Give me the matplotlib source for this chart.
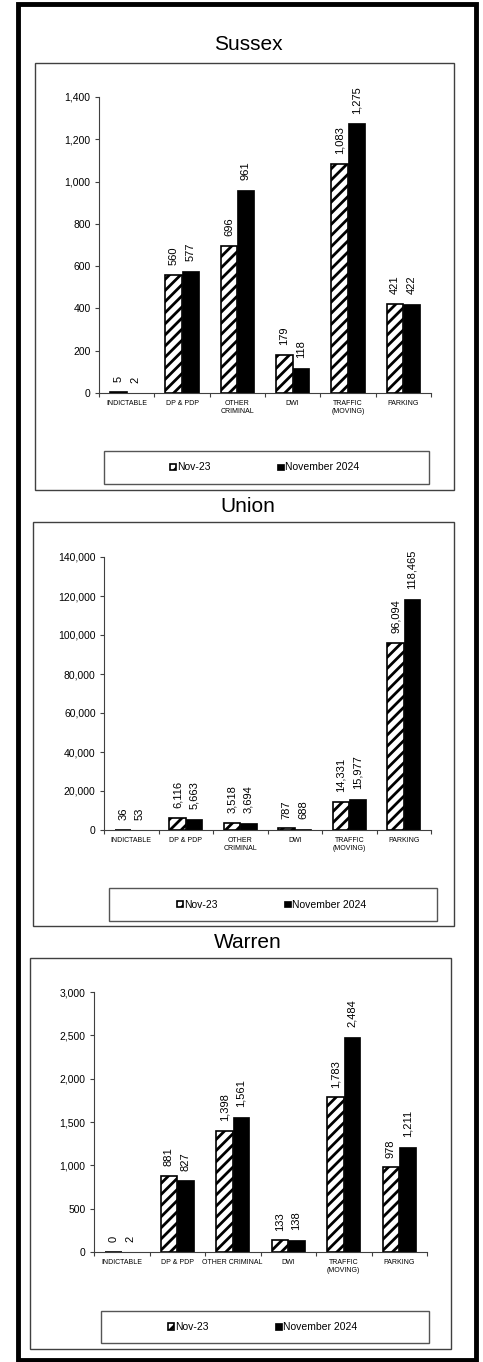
import matplotlib
matplotlib.use("Agg")
import matplotlib.pyplot as plt
from matplotlib.patches import Rectangle
from matplotlib.ticker import FuncFormatter, FixedLocator

plt.rcParams['font.family'] = ['Liberation Sans', 'DejaVu Sans']
plt.rcParams['hatch.linewidth'] = 2.0

# --- data ---
series_names = ['Nov-23', 'November 2024']
categories_two_line = ['INDICTABLE', 'DP & PDP', 'OTHER\nCRIMINAL', 'DWI', 'TRAFFIC\n(MOVING)', 'PARKING']
categories_warren = ['INDICTABLE', 'DP & PDP', 'OTHER CRIMINAL', 'DWI', 'TRAFFIC\n(MOVING)', 'PARKING']

sussex_2023 = [5, 560, 696, 179, 1083, 421]
sussex_2024 = [2, 577, 961, 118, 1275, 422]
union_2023 = [36, 6116, 3518, 787, 14331, 96094]
union_2024 = [53, 5663, 3694, 688, 15977, 118465]
warren_2023 = [0, 881, 1398, 133, 1783, 978]
warren_2024 = [2, 827, 1561, 138, 2484, 1211]

W, H = 483, 1362
fig = plt.figure(figsize=(W / 100, H / 100), dpi=100)


def fx(x):
    return x / W


def fy(y):
    return 1 - y / H


def fig_rect(x0, y0, x1, y1, lw, color):
    fig.patches.append(Rectangle((fx(x0), fy(y1)), fx(x1) - fx(x0), fy(y0) - fy(y1),
                                 transform=fig.transFigure, fill=False,
                                 linewidth=lw, edgecolor=color, zorder=0))


# outer frame
fig_rect(18, 4, 476, 1360, 3.5, 'black')

panels = [
    dict(name='Sussex', a=sussex_2023, b=sussex_2024, cats=categories_two_line, ymax=1400, step=200,
         box=(35, 63, 454, 490), ax=(99, 97, 431, 393), title_y=44.5,
         leg=(104, 451, 429, 484), leg_x=170),
    dict(name='Union', a=union_2023, b=union_2024, cats=categories_two_line, ymax=140000, step=20000,
         box=(33, 522, 454, 926), ax=(104, 557, 431, 830), title_y=507,
         leg=(109, 888, 437, 921), leg_x=177),
    dict(name='Warren', a=warren_2023, b=warren_2024, cats=categories_warren, ymax=3000, step=500,
         box=(30, 958, 451, 1349), ax=(94, 992, 427, 1252), title_y=942,
         leg=(101, 1311, 429, 1343), leg_x=168),
]

for p in panels:
    bx0, by0, bx1, by1 = p['box']
    fig_rect(bx0, by0, bx1, by1, 1.0, '#404040')
    lx0, ly0, lx1, ly1 = p['leg']
    fig_rect(lx0, ly0, lx1, ly1, 1.0, '#555555')
    fig.text(fx(248), fy(p['title_y']), p['name'], fontsize=15, ha='center', va='center')

    x0, y0, x1, y1 = p['ax']
    ax = fig.add_axes([fx(x0), fy(y1), fx(x1) - fx(x0), fy(y0) - fy(y1)])
    pos = list(range(len(p['cats'])))
    w = 0.3
    bars_a = ax.bar([i - w / 2 for i in pos], p['a'], width=w, color='white', edgecolor='black',
                    hatch='///', linewidth=1.2, label=series_names[0])
    bars_b = ax.bar([i + w / 2 for i in pos], p['b'], width=w, color='black', edgecolor='black',
                    linewidth=0.5, label=series_names[1])
    for bars, vals in ((bars_a, p['a']), (bars_b, p['b'])):
        for rect, v in zip(bars, vals):
            ax.annotate(f'{v:,}', (rect.get_x() + rect.get_width() / 2, rect.get_height()),
                        xytext=(0, 7), textcoords='offset points', rotation=90,
                        ha='center', va='bottom', fontsize=8, clip_on=False)

    ax.set_xlim(-0.5, len(pos) - 0.5)
    ax.set_ylim(0, p['ymax'])
    ax.set_yticks(range(0, p['ymax'] + 1, p['step']))
    ax.yaxis.set_major_formatter(FuncFormatter(lambda v, _: f'{int(v):,}'))
    ax.tick_params(axis='y', labelsize=7.5, length=3, direction='out', pad=3, color='#404040')
    ax.xaxis.set_major_locator(FixedLocator([i - 0.5 for i in range(len(pos) + 1)]))
    ax.xaxis.set_major_formatter(FuncFormatter(lambda v, _: ''))
    ax.xaxis.set_minor_locator(FixedLocator(pos))
    ax.set_xticklabels(p['cats'], minor=True, fontsize=5)
    ax.tick_params(axis='x', which='major', length=3, direction='out', color='#404040')
    ax.tick_params(axis='x', which='minor', length=0, pad=5)
    for s in ('top', 'right'):
        ax.spines[s].set_visible(False)
    for s in ('left', 'bottom'):
        ax.spines[s].set_color('#404040')
    ax.set_facecolor('none')

    fig.legend(handles=[bars_a, bars_b], loc='center left',
               bbox_to_anchor=(fx(p['leg_x']), fy((ly0 + ly1) / 2)),
               ncol=2, frameon=False, fontsize=7.5, handlelength=0.6, handleheight=0.6,
               handletextpad=0.1, columnspacing=6.4, borderpad=0, borderaxespad=0)

fig.savefig('out.png', dpi=100)
